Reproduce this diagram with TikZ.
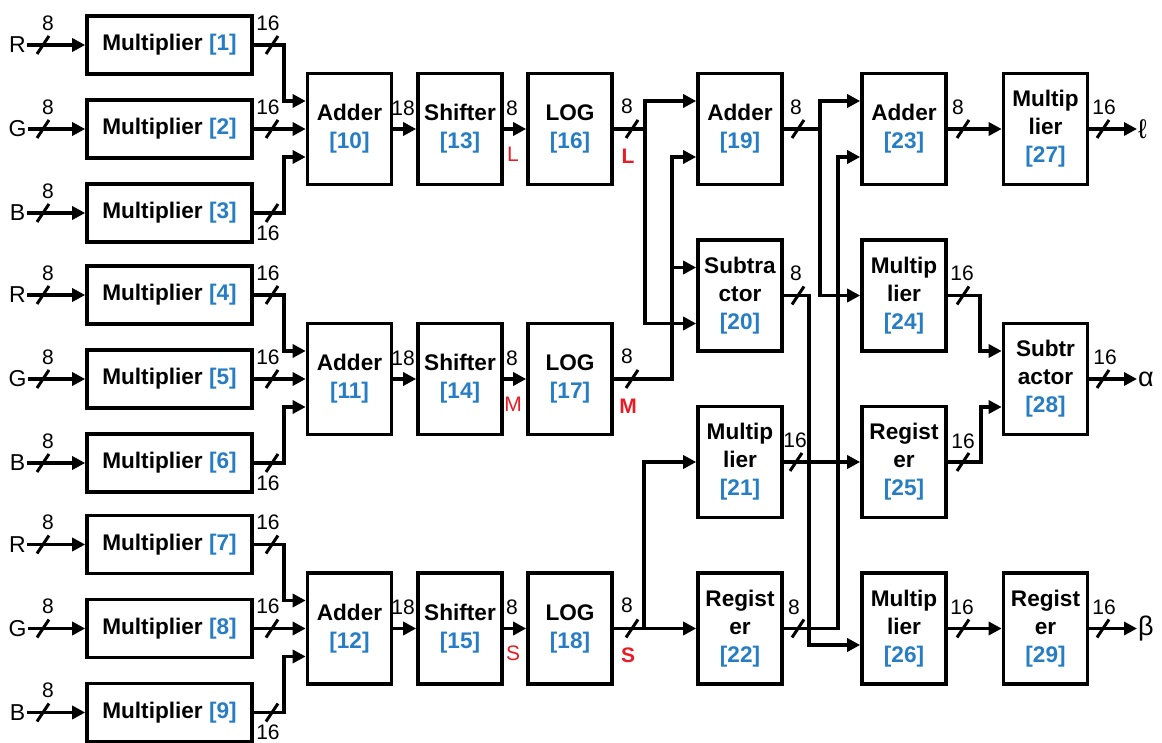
\documentclass[tikz,border=0pt]{standalone}
\usepackage{fontspec}
\setmainfont{Liberation Sans}
\usetikzlibrary{arrows.meta,calc}
\definecolor{numblue}{RGB}{38,125,195}
\definecolor{sigred}{RGB}{232,28,36}
\tikzset{
 blk/.style={draw, line width=1.8pt, minimum width=42pt, minimum height=55.5pt, inner sep=0pt, align=center, font=\fontsize{11.3}{14}\selectfont\bfseries},
 mul/.style={blk, minimum width=82.5pt, minimum height=29pt},
 wire/.style={line width=1.7pt},
 arr/.style={wire, -{Triangle[length=6.5pt,width=6.5pt]}},
 lbl/.style={font=\fontsize{10.5}{12}\selectfont, inner sep=0pt},
 inl/.style={font=\fontsize{11.5}{12}\selectfont, inner sep=0.5pt},
 sig/.style={lbl, text=sigred},
 sigb/.style={sig, font=\fontsize{10.5}{12}\selectfont\bfseries},
 outl/.style={font=\fontsize{13.5}{14}\selectfont, inner sep=0.3pt, anchor=west},
 busmark/.style={line width=1.5pt},
}
\newcommand{\busmk}[1]{\draw[busmark] ($(#1)+(-6,9)$) -- ($(#1)+(6,-9)$);}
\begin{document}
\begin{tikzpicture}[x=0.5pt,y=-0.5pt]
\useasboundingbox (0,0) rectangle (1162,743);
% multipliers and inputs
\foreach \i/\y/\c in {1/45/R,2/129/G,3/213/B,4/295/R,5/379/G,6/463/B,7/544.5/R,8/628.5/G,9/712.5/B} {
 \node[mul] (m\i) at (169.5,\y) {Multiplier \textcolor{numblue}{[\i]}};
 \node[inl] (in\i) at (17.5,\y) {\c};
 \draw[arr] (in\i.east) -- (m\i.west);
 \busmk{43,\y}
 \node[lbl] at (48,\y-22) {8};
}
% adders, shifters, logs
\node[blk] (a10) at (349.5,129) {Adder\\\textcolor{numblue}{[10]}};
\node[blk] (a11) at (349.5,379) {Adder\\\textcolor{numblue}{[11]}};
\node[blk] (a12) at (349.5,628.5) {Adder\\\textcolor{numblue}{[12]}};
\node[blk] (s13) at (460,129) {Shifter\\\textcolor{numblue}{[13]}};
\node[blk] (s14) at (460,379) {Shifter\\\textcolor{numblue}{[14]}};
\node[blk] (s15) at (460,628.5) {Shifter\\\textcolor{numblue}{[15]}};
\node[blk] (l16) at (570,129) {LOG\\\textcolor{numblue}{[16]}};
\node[blk] (l17) at (570,379) {LOG\\\textcolor{numblue}{[17]}};
\node[blk] (l18) at (570,628.5) {LOG\\\textcolor{numblue}{[18]}};
% column 3
\node[blk] (a19) at (740,129) {Adder\\\textcolor{numblue}{[19]}};
\node[blk] (s20) at (740,295.5) {Subtra\\ctor\\\textcolor{numblue}{[20]}};
\node[blk] (m21) at (740,462) {Multip\\lier\\\textcolor{numblue}{[21]}};
\node[blk] (r22) at (740,628.5) {Regist\\er\\\textcolor{numblue}{[22]}};
% column 4
\node[blk] (a23) at (904,129) {Adder\\\textcolor{numblue}{[23]}};
\node[blk] (m24) at (904,295.5) {Multip\\lier\\\textcolor{numblue}{[24]}};
\node[blk] (r25) at (904,462) {Regist\\er\\\textcolor{numblue}{[25]}};
\node[blk] (m26) at (904,628.5) {Multip\\lier\\\textcolor{numblue}{[26]}};
% column 5
\node[blk] (m27) at (1045.5,129) {Multip\\lier\\\textcolor{numblue}{[27]}};
\node[blk] (s28) at (1045.5,379) {Subtr\\actor\\\textcolor{numblue}{[28]}};
\node[blk] (r29) at (1045.5,628.5) {Regist\\er\\\textcolor{numblue}{[29]}};
% outputs
\node[outl] (ell) at (1137,129) {ℓ};
\node[outl] (alp) at (1137,379) {α};
\node[outl] (bet) at (1137,628.5) {β};
% multiplier outputs into adders
\foreach \p/\q/\r/\A/\y in {1/2/3/a10/129, 4/5/6/a11/379, 7/8/9/a12/628.5} {
 \draw[arr] (m\p.east) -- ++(30,0) |- ([yshift=14pt]\A.west);
 \draw[arr] (m\q.east) -- (\A.west);
 \draw[arr] (m\r.east) -- ++(30,0) |- ([yshift=-14pt]\A.west);
 \busmk{272,\y-84} \busmk{272,\y} \busmk{272,\y+84}
 \node[lbl] at (268,\y-106) {16};
 \node[lbl] at (268,\y-22) {16};
 \node[lbl] at (268,\y+104) {16};
}
% adder -> shifter -> log
\foreach \A/\S/\L/\y/\c in {a10/s13/l16/129/L, a11/s14/l17/379/M, a12/s15/l18/628.5/S} {
 \draw[arr] (\A) -- (\S);
 \node[lbl] at (403,\y-21) {18};
 \draw[arr] (\S) -- (\L);
 \node[lbl] at (512,\y-21) {8};
 \node[sig] at (513,\y+25) {\c};
 \busmk{632,\y}
 \node[lbl] at (627,\y-23) {8};
 \node[sigb] at (628,\y+27) {\c};
}
% L
\draw[arr] (l16.east) -- ++(31,0) |- ([yshift=14pt]a19.west);
\draw[arr] (l16.east) -- ++(31,0) |- ([yshift=-14pt]s20.west);
% M
\draw[arr] (l17.east) -- ++(58,0) |- ([yshift=14pt]s20.west);
\draw[arr] (l17.east) -- ++(58,0) |- ([yshift=-14pt]a19.west);
% S
\draw[arr] (l18) -- (r22);
\draw[arr] (l18.east) -- ++(30,0) |- (m21.west);
% column 3 outputs
\draw[arr] (a19.east) -- ++(36,0) |- ([yshift=14pt]a23.west);
\draw[arr] (a19.east) -- ++(36,0) |- (m24.west);
\busmk{798,129} \node[lbl] at (796,107) {8};
\draw[arr] (s20.east) -- ++(25,0) |- ([yshift=-8.25pt]m26.west);
\busmk{798,295.5} \node[lbl] at (796,273) {8};
\draw[arr] (m21) -- (r25);
\busmk{796,462} \node[lbl] at (795,440) {16};
\draw[arr] (r22.east) -- ++(54,0) |- ([yshift=-14pt]a23.west);
\busmk{798,628.5} \node[lbl] at (794,607) {8};
% column 4 outputs
\draw[arr] (a23) -- (m27);
\busmk{963,129} \node[lbl] at (958,107) {8};
\draw[arr] (m24.east) -- ++(32,0) |- ([yshift=14pt]s28.west);
\busmk{963,295.5} \node[lbl] at (962,273) {16};
\draw[arr] (r25.east) -- ++(33,0) |- ([yshift=-14pt]s28.west);
\busmk{963,462} \node[lbl] at (963,441) {16};
\draw[arr] (m26) -- (r29);
\busmk{963,628.5} \node[lbl] at (962,607) {16};
% final outputs
\draw[arr] (m27) -- (ell);
\busmk{1103,129} \node[lbl] at (1104,107) {16};
\draw[arr] (s28) -- (alp);
\busmk{1103,379} \node[lbl] at (1105,357) {16};
\draw[arr] (r29) -- (bet);
\busmk{1103,628.5} \node[lbl] at (1104,607) {16};
\end{tikzpicture}
\end{document}
